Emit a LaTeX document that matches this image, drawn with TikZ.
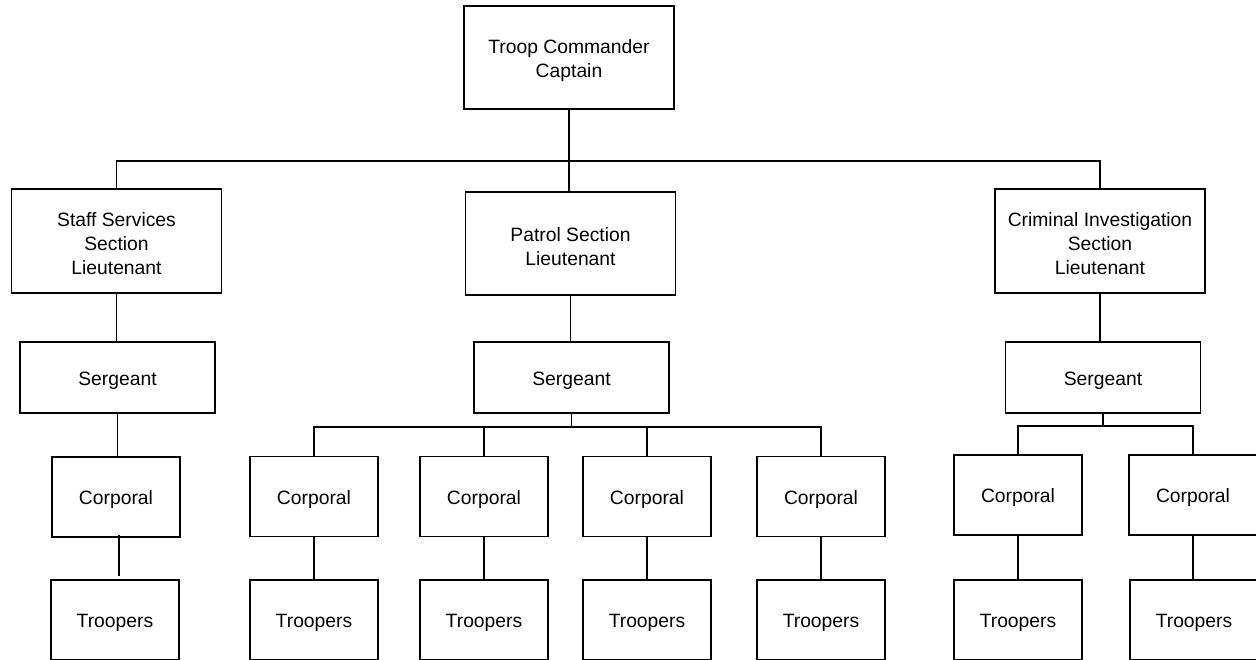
\documentclass[tikz,border=0pt]{standalone}
\usepackage{fontspec}
\setmainfont{Liberation Sans}
\begin{document}
\begin{tikzpicture}[x=1pt,y=-1pt,
  lab/.style={inner sep=0pt, align=center, yshift=-3pt,
    font=\fontsize{19.3}{24}\selectfont},
  box/.style={draw=black, line width=1.4pt, rectangle, inner sep=0pt, label={[lab]center:#1}},
  big/.style={box={#1}, minimum width=210pt, minimum height=103pt},
  serg/.style={box={#1}, minimum width=195pt, minimum height=71pt},
  small/.style={box={#1}, minimum width=128pt, minimum height=80pt},
  wire/.style={draw=black, line width=1.4pt}]
\fill[white] (0,0) rectangle (1256,660);
\useasboundingbox (0,0) rectangle (1256,660);
\clip (0,0) rectangle (1256,660);
% level 0
\node[big={Troop Commander\\Captain}] (t) at (569,57.5) {};
% level 1
\node[big={Staff Services\\Section\\Lieutenant}, minimum height=104pt] (sl) at (116.5,241) {};
\node[big={Patrol Section\\Lieutenant}] (pl) at (570.5,243.5) {};
\node[big={Criminal Investigation\\Section\\Lieutenant}, minimum height=104pt] (cl) at (1100,241) {};
% sergeants
\node[serg=Sergeant] (ss) at (117.5,377.5) {};
\node[serg=Sergeant] (ps) at (571.5,377.5) {};
\node[serg=Sergeant] (cs) at (1103,377.5) {};
% corporals
\node[small=Corporal] (sc) at (116,497) {};
\node[small=Corporal] (pc1) at (314,496.5) {};
\node[small=Corporal] (pc2) at (484,496.5) {};
\node[small=Corporal] (pc3) at (647,496.5) {};
\node[small=Corporal] (pc4) at (821,496.5) {};
\node[small=Corporal] (cc1) at (1018,495) {};
\node[small=Corporal] (cc2) at (1193,495) {};
% troopers
\node[small=Troopers] (st) at (115,620) {};
\node[small=Troopers] (pt1) at (314,620) {};
\node[small=Troopers] (pt2) at (484,620) {};
\node[small=Troopers] (pt3) at (647,620) {};
\node[small=Troopers] (pt4) at (821,620) {};
\node[small=Troopers] (ct1) at (1018,620) {};
\node[small=Troopers] (ct2) at (1194,620) {};
% bus coordinates
\coordinate (bus0) at (569,161);
\coordinate (busp) at (570,427);
\coordinate (busc) at (1103,426);
% connectors top
\draw[wire] (t.south) -- (t.south |- pl.north);
\draw[wire] (sl.north) -- (sl.north |- bus0) -- (cl.north |- bus0) -- (cl.north);
% staff column
\draw[wire] (sl.south) -- (sl.south |- ss.north);
\draw[wire] (ss.south) -- (ss.south |- sc.north);
\draw[wire] ([xshift=3pt,yshift=3pt]sc.south) -- ([xshift=3pt,yshift=3pt]sc.south |- st.north);
% patrol column
\draw[wire] (pl.south) -- (pl.south |- ps.north);
\draw[wire] (ps.south) -- (ps.south |- busp);
\draw[wire] (pc1.north) -- (pc1.north |- busp) -- (pc4.north |- busp) -- (pc4.north);
\draw[wire] (pc2.north) -- (pc2.north |- busp);
\draw[wire] (pc3.north) -- (pc3.north |- busp);
\foreach \i in {1,2,3,4} {\draw[wire] (pc\i.south) -- (pt\i.north);}
% criminal column
\draw[wire] (cl.south) -- (cl.south |- cs.north);
\draw[wire] (cs.south) -- (cs.south |- busc);
\draw[wire] (cc1.north) -- (cc1.north |- busc) -- (cc2.north |- busc) -- (cc2.north);
\draw[wire] (cc1.south) -- (ct1.north);
\draw[wire] (cc2.south) -- (cc2.south |- ct2.north);
\end{tikzpicture}
\end{document}
